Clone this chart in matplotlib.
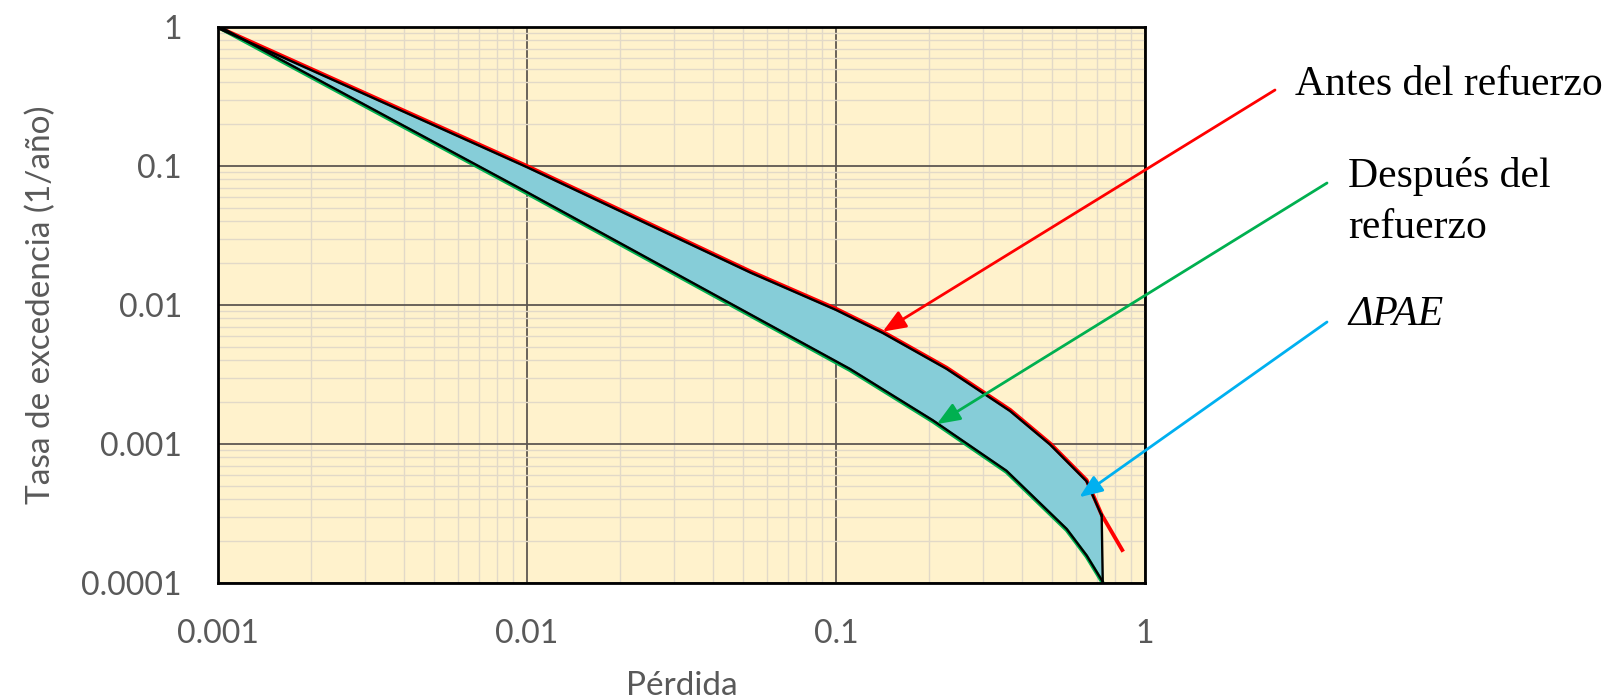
import matplotlib
matplotlib.use("Agg")
import matplotlib.pyplot as plt
import matplotlib.transforms as mtransforms
import numpy as np

# Loss-exceedance curves
loss_antes = [0.001, 0.01, 0.053, 0.1, 0.142, 0.228, 0.366, 0.493, 0.647, 0.724, 0.85]
rate_antes = [1.0, 0.1, 0.0174, 0.0094, 0.0064, 0.00354, 0.00176, 0.00101, 0.00055, 0.00031, 0.000168]

loss_despues = [0.001, 0.01, 0.111, 0.206, 0.356, 0.558, 0.647, 0.73, 0.745]
rate_despues = [1.0, 0.0636, 0.0034, 0.00145, 0.00063, 0.00024, 0.000155, 0.0001, 0.000085]

# the shaded delta region stops at the end of the "despues" curve
loss_cut = 0.73

xticks = [0.001, 0.01, 0.1, 1]
xtick_labels = ["0.001", "0.01", "0.1", "1"]
yticks = [0.0001, 0.001, 0.01, 0.1, 1]
ytick_labels = ["0.0001", "0.001", "0.01", "0.1", "1"]

labels = ["Antes del refuerzo", "Después del\nrefuerzo", "ΔPAE"]

plt.rcParams['font.family'] = ['Lato', 'DejaVu Sans']

fig = plt.figure(figsize=(16.15, 6.99), dpi=100)
ax = fig.add_axes([218 / 1615, 116 / 699, 927 / 1615, 556 / 699])
ax.set_facecolor('#FFF2CC')
ax.set_xscale('log')
ax.set_yscale('log')
ax.set_xlim(0.001, 1)
ax.set_ylim(0.0001, 1)

# grid
ax.grid(True, which='minor', color='#E2D9C8', lw=1.0)
ax.grid(True, which='major', color='#5E5852', lw=1.3)
ax.set_axisbelow(True)

la = np.array(loss_antes)
ra = np.array(rate_antes)
ld = np.array(loss_despues)
rd = np.array(rate_despues)
up = la <= loss_cut
lo = ld <= loss_cut

poly_x = np.concatenate([la[up], ld[lo][::-1]])
poly_y = np.concatenate([ra[up], rd[lo][::-1]])
ax.fill(poly_x, poly_y, color='#86CDD8', zorder=2)

ax.plot(la, ra, color='#FF0000', lw=2.8, zorder=3, solid_capstyle='butt')
ax.plot(ld, rd, color='#00B050', lw=2.8, zorder=3, solid_capstyle='butt')

down = mtransforms.offset_copy(ax.transData, fig=fig, x=0, y=-1.2, units='dots')
upw = mtransforms.offset_copy(ax.transData, fig=fig, x=0, y=1.2, units='dots')
ax.plot(la[up], ra[up], color='black', lw=1.7, zorder=4, transform=down)
ax.plot(ld[lo], rd[lo], color='black', lw=1.7, zorder=4, transform=upw)
ax.plot([la[up][-1], ld[lo][-1]], [ra[up][-1], rd[lo][-1]], color='black', lw=1.7, zorder=4)

for s in ax.spines.values():
    s.set_linewidth(2.0)
    s.set_color('black')
    s.set_zorder(5)

ax.set_xticks(xticks)
ax.set_xticklabels(xtick_labels)
ax.set_yticks(yticks)
ax.set_yticklabels(ytick_labels)
ax.tick_params(which='both', length=0)
ax.tick_params(axis='x', labelsize=23, colors='#595959', pad=26)
ax.tick_params(axis='y', labelsize=23, colors='#595959', pad=26)

ax.set_xlabel('Pérdida', fontsize=24, color='#595959', labelpad=16)
ax.set_ylabel('Tasa de excedencia (1/año)', fontsize=24, color='#595959', labelpad=18)

# callouts
arrow_kw = dict(arrowstyle='-|>,head_length=0.7,head_width=0.28', mutation_scale=20,
                lw=2, shrinkA=0, shrinkB=0)
ax.annotate('', xy=(0.1416, 0.00643), xycoords='data', xytext=(1275, 609),
            textcoords='figure pixels', annotation_clip=False,
            arrowprops=dict(color='#FF0000', **arrow_kw), zorder=6)
ax.annotate('', xy=(0.212, 0.00139), xycoords='data', xytext=(1327, 516),
            textcoords='figure pixels', annotation_clip=False,
            arrowprops=dict(color='#00B050', **arrow_kw), zorder=6)
ax.annotate('', xy=(0.613, 0.000414), xycoords='data', xytext=(1327, 377),
            textcoords='figure pixels', annotation_clip=False,
            arrowprops=dict(color='#00B0F0', **arrow_kw), zorder=6)

serif = ['Liberation Serif', 'DejaVu Serif']
fig.text(1295 / 1615, 604 / 699, labels[0], fontsize=30, family=serif, va='baseline', ha='left')
line1, line2 = labels[1].split('\n')
fig.text(1348 / 1615, 512 / 699, line1, fontsize=30, family=serif, va='baseline', ha='left')
fig.text(1348 / 1615, 461 / 699, line2, fontsize=30, family=serif, va='baseline', ha='left')
fig.text(1348 / 1615, 374 / 699, labels[2], fontsize=30, family=serif, style='italic',
         va='baseline', ha='left')

fig.savefig('out.png', dpi=100, facecolor='white')
